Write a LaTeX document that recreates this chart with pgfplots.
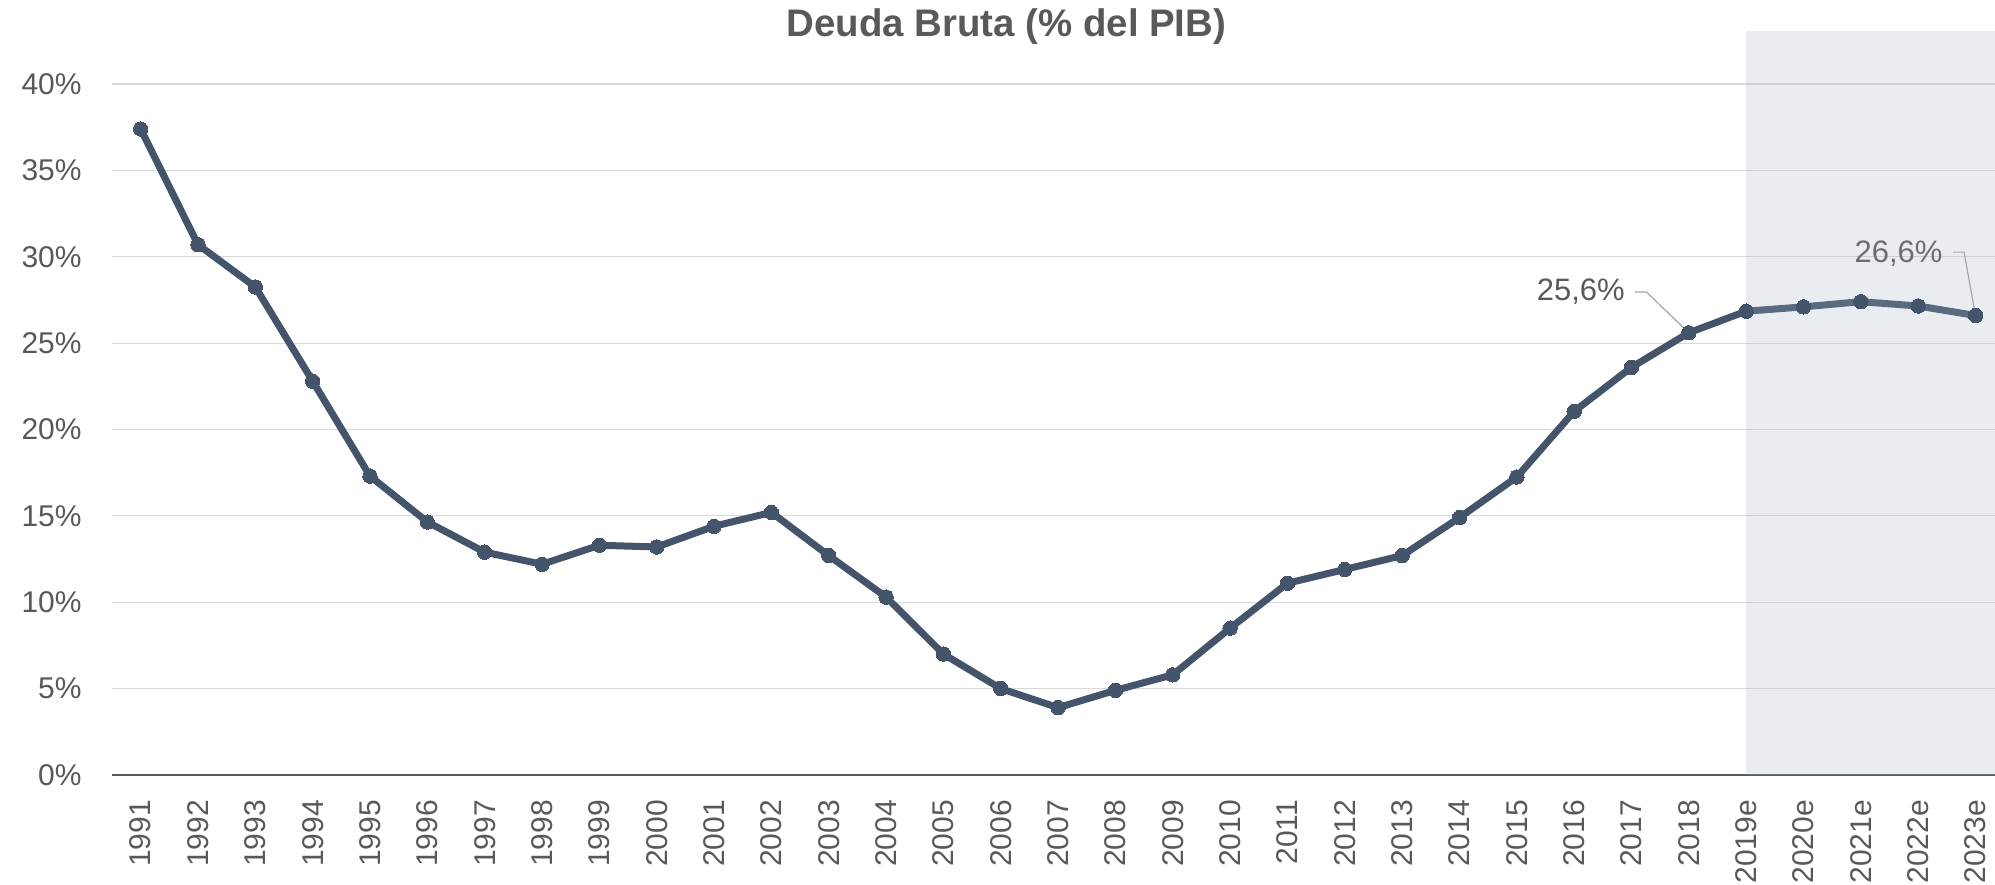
\documentclass[border=0pt]{standalone}
\usepackage{fontspec}
\setmainfont{Liberation Sans}
\usepackage{pgfplots}
\usepackage{pgfplotstable}
\pgfplotsset{compat=1.18}
\definecolor{lineC}{RGB}{68,84,106}
\definecolor{txt}{RGB}{89,89,89}
\definecolor{gridC}{RGB}{217,217,217}
\definecolor{shadeC}{RGB}{163,176,197}
\definecolor{leadC}{RGB}{166,166,166}

\pgfplotstableread{
x y
0 37.4
1 30.7
2 28.25
3 22.8
4 17.3
5 14.65
6 12.9
7 12.2
8 13.3
9 13.2
10 14.4
11 15.2
12 12.7
13 10.3
14 7.0
15 5.0
16 3.9
17 4.9
18 5.8
19 8.5
20 11.1
21 11.9
22 12.7
23 14.9
24 17.25
25 21.05
26 23.6
27 25.6
28 26.85
29 27.1
30 27.4
31 27.15
32 26.6
}\data

\begin{document}
\begin{tikzpicture}
\begin{axis}[
  scale only axis, width=941.5bp, height=372bp,
  xmin=-0.5, xmax=32.34, ymin=0, ymax=43.07,
  clip=false,
  axis x line*=bottom, axis y line*=left,
  y axis line style={draw=none},
  x axis line style={draw=txt, line width=0.75bp},
  major tick length=0pt,
  ymajorgrids, grid style={gridC, line width=0.6bp},
  ytick={0,5,...,40},
  yticklabels={0\%,5\%,10\%,15\%,20\%,25\%,30\%,35\%,40\%},
  xtick={0,...,32},
  xticklabels={1991,1992,1993,1994,1995,1996,1997,1998,1999,2000,2001,2002,2003,2004,2005,2006,2007,2008,2009,2010,2011,2012,2013,2014,2015,2016,2017,2018,2019e,2020e,2021e,2022e,2023e},
  tick label style={font=\fontsize{15bp}{18bp}\selectfont, text=txt},
  yticklabel style={anchor=east, inner sep=0pt, xshift=-15bp},
  xticklabel style={rotate=90, anchor=east, inner sep=0pt, outer xsep=12.5bp},
]
\addplot[lineC, line width=3.5bp, line join=round, mark=*, mark size=3.6bp,
  mark options={fill=lineC, draw=lineC, line width=0pt}] table[x=x,y=y]{\data};

\node[anchor=east, inner sep=0pt, text=txt, font=\fontsize{15.5bp}{18bp}\selectfont] at (axis cs:25.89,27.96) {25,6\%};
\draw[leadC, line width=0.6bp] (axis cs:26.06,27.96) -- (axis cs:26.26,27.96) -- (axis cs:27,25.6);
\node[anchor=east, inner sep=0pt, text=txt, font=\fontsize{15.5bp}{18bp}\selectfont] at (axis cs:31.43,30.2) {26,6\%};
\draw[leadC, line width=0.6bp] (axis cs:31.61,30.27) -- (axis cs:31.80,30.27) -- (axis cs:32,26.6);

\fill[shadeC, fill opacity=0.24] (axis cs:28,0) rectangle (rel axis cs:1,1);

\node[text=txt, font=\fontsize{19.2bp}{21bp}\selectfont\bfseries, yshift=2bp] at (rel axis cs:0.475,1) {Deuda Bruta (\% del PIB)};

\coordinate (bl) at (rel axis cs:0,0);
\coordinate (tr) at (rel axis cs:1,1);
\end{axis}
\pgfresetboundingbox
\path ([shift={(-56bp,-55bp)}]bl) rectangle ([shift={(0bp,15.5bp)}]tr);
\end{tikzpicture}
\end{document}
